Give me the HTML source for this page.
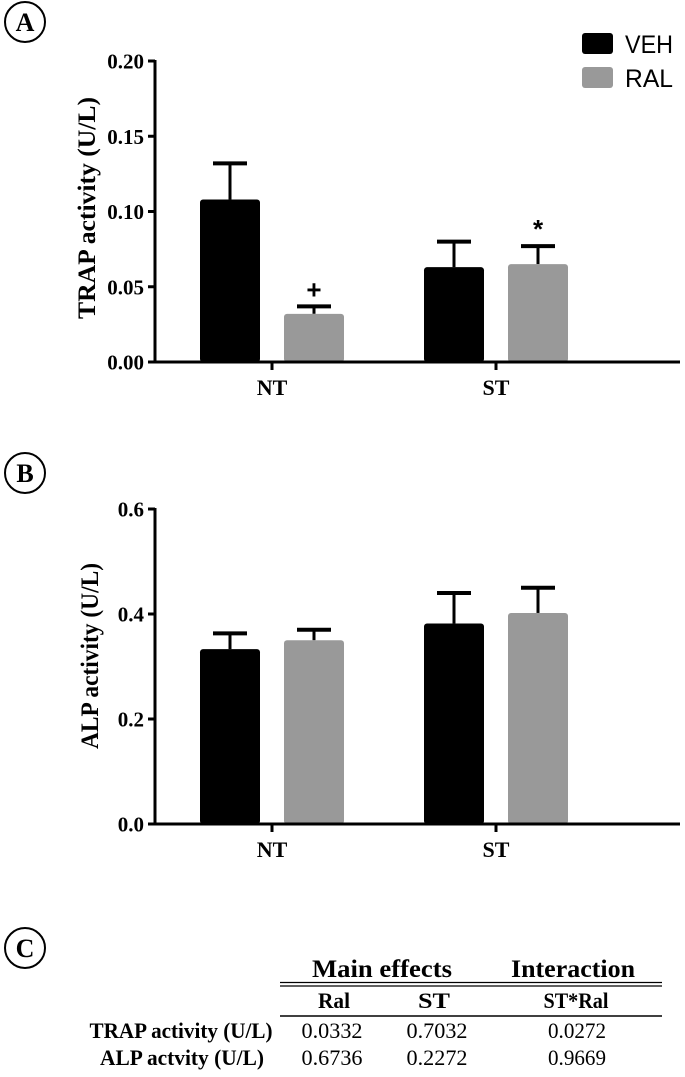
<!DOCTYPE html>
<html><head><meta charset="utf-8"><style>
body{margin:0;background:#fff;}
svg text{font-family:"Liberation Serif",serif;}
</style></head><body>
<svg width="685" height="1072" viewBox="0 0 685 1072" xmlns="http://www.w3.org/2000/svg">
<g id="labels"></g>
<g id="chartA"></g>
<g id="chartB"></g>
<g>
 <rect x="582" y="33" width="31" height="21" rx="3" fill="#000"/>
 <text x="625" y="53" font-size="25" textLength="48" lengthAdjust="spacingAndGlyphs" style="font-family:'Liberation Sans',sans-serif">VEH</text>
 <rect x="582" y="67" width="31" height="21" rx="3" fill="#999"/>
 <text x="625" y="87" font-size="25" textLength="48" lengthAdjust="spacingAndGlyphs" style="font-family:'Liberation Sans',sans-serif">RAL</text>
</g>
<g font-size="22" text-anchor="middle">
 <text x="382" y="977" font-weight="bold" font-size="25" textLength="140" lengthAdjust="spacingAndGlyphs">Main effects</text>
 <text x="573" y="977" font-weight="bold" font-size="25" textLength="124" lengthAdjust="spacingAndGlyphs">Interaction</text>
 <line x1="280" y1="982.5" x2="662" y2="982.5" stroke="#000" stroke-width="1.3"/>
 <line x1="280" y1="986" x2="662" y2="986" stroke="#000" stroke-width="1.3"/>
 <text x="334" y="1008" font-weight="bold" textLength="32" lengthAdjust="spacingAndGlyphs">Ral</text>
 <text x="434" y="1008" font-weight="bold" textLength="32" lengthAdjust="spacingAndGlyphs">ST</text>
 <text x="576" y="1008" font-weight="bold" textLength="65" lengthAdjust="spacingAndGlyphs">ST*Ral</text>
 <line x1="280" y1="1016" x2="662" y2="1016" stroke="#000" stroke-width="1.6"/>
 <text x="181" y="1038" font-weight="bold" textLength="183" lengthAdjust="spacingAndGlyphs">TRAP activity (U/L)</text>
 <text x="332" y="1038" textLength="61" lengthAdjust="spacingAndGlyphs">0.0332</text>
 <text x="437" y="1038" textLength="61" lengthAdjust="spacingAndGlyphs">0.7032</text>
 <text x="577" y="1038" textLength="58" lengthAdjust="spacingAndGlyphs">0.0272</text>
 <text x="182" y="1065" font-weight="bold" textLength="164" lengthAdjust="spacingAndGlyphs">ALP actvity (U/L)</text>
 <text x="332" y="1065" textLength="61" lengthAdjust="spacingAndGlyphs">0.6736</text>
 <text x="437" y="1065" textLength="61" lengthAdjust="spacingAndGlyphs">0.2272</text>
 <text x="577" y="1065" textLength="58" lengthAdjust="spacingAndGlyphs">0.9669</text>
</g>
</svg>
<script>
const categories = ["NT", "ST"];
const trapVeh = [0.108, 0.063];
const trapVehErr = [0.024, 0.017];
const trapRal = [0.032, 0.065];
const trapRalErr = [0.005, 0.012];
const trapTicks = ["0.00", "0.05", "0.10", "0.15", "0.20"];
const trapMarks = ["+", "*"];
const alpVeh = [0.333, 0.382];
const alpVehErr = [0.030, 0.058];
const alpRal = [0.350, 0.402];
const alpRalErr = [0.020, 0.048];
const alpTicks = ["0.0", "0.2", "0.4", "0.6"];

const NS = "http://www.w3.org/2000/svg";
function mk(parent, tag, attrs, text) {
  const e = document.createElementNS(NS, tag);
  for (const k in attrs) e.setAttribute(k, attrs[k]);
  if (text !== undefined) e.textContent = text;
  parent.appendChild(e);
  return e;
}
const labels = document.getElementById('labels');
[["A", 22], ["B", 473], ["C", 948]].forEach(([t, cy]) => {
  const c = mk(labels, 'circle', {cx: 25, cy: cy, r: 20, fill: 'none', stroke: '#000', 'stroke-width': 2});
  
  
  const tx = mk(labels, 'text', {x: 25, y: cy + 9, 'text-anchor': 'middle', 'font-size': 26, 'font-weight': 'bold'}, t);
  
  
});

function drawChart(g, opt) {
  const x0 = 155, x1 = 680;
  const y = v => opt.yBot - (v / opt.max) * (opt.yBot - opt.yTop);
  const ticks = opt.ticks;
  ticks.forEach((t, i) => {
    const v = opt.max * i / (ticks.length - 1);
    const tl = mk(g, 'line', {x1: x0 - 7, x2: x0, y1: y(v), y2: y(v), stroke: '#000', 'stroke-width': 3});
    
    
    const tt = mk(g, 'text', {x: x0 - 11, y: y(v) + 7.5, 'text-anchor': 'end', 'font-size': 21, 'font-weight': 'bold'}, t);
    
    
  });
  const centers = [272, 496];
  const bw = 60, off = 42;
  categories.forEach((c, i) => {
    const series = [[opt.veh, opt.vehErr, '#000', -off, 'veh'], [opt.ral, opt.ralErr, '#999', off, 'ral']];
    series.forEach(([vals, errs, col, dx, nm]) => {
      const cx = centers[i] + dx;
      const top = y(vals[i] + errs[i]);
      const el = mk(g, 'line', {x1: cx, x2: cx, y1: y(vals[i]), y2: top, stroke: '#000', 'stroke-width': 3});
      
      
      const cap = mk(g, 'line', {x1: cx - 17, x2: cx + 17, y1: top, y2: top, stroke: '#000', 'stroke-width': 4});
      
      
      const r = mk(g, 'rect', {x: cx - bw / 2, y: y(vals[i]), width: bw, height: opt.yBot - y(vals[i]), rx: 3, fill: col});
      
      
      if (opt.marks && nm === 'ral') {
        const m = mk(g, 'text', {x: cx, y: top - 8, 'text-anchor': 'middle', 'font-size': 26, 'font-weight': 'bold', style: "font-family:'Liberation Sans',sans-serif"}, opt.marks[i]);
        
        
      }
    });
    const xt = mk(g, 'line', {x1: centers[i], x2: centers[i], y1: opt.yBot, y2: opt.yBot + 8, stroke: '#000', 'stroke-width': 3});
    
    
    const xl = mk(g, 'text', {x: centers[i], y: opt.yBot + 33, 'text-anchor': 'middle', 'font-size': 22, 'font-weight': 'bold'}, c);
    
    
  });
  const ya = mk(g, 'line', {x1: x0, x2: x0, y1: opt.yTop - 1, y2: opt.yBot + 1.5, stroke: '#000', 'stroke-width': 3});
  
  
  const xa = mk(g, 'line', {x1: x0, x2: x1, y1: opt.yBot, y2: opt.yBot, stroke: '#000', 'stroke-width': 3});
  
  
  const ti = mk(g, 'text', {x: 0, y: 0, transform: 'translate(' + opt.titleX + ',' + opt.titleY + ') rotate(-90)', 'text-anchor': 'middle', 'font-size': 25, 'font-weight': 'bold', textLength: opt.titleLen, lengthAdjust: 'spacingAndGlyphs'}, opt.title);
  
  
}
drawChart(document.getElementById('chartA'), {yTop: 61, yBot: 362, max: 0.20, ticks: trapTicks, veh: trapVeh, vehErr: trapVehErr, ral: trapRal, ralErr: trapRalErr, marks: trapMarks, title: 'TRAP activity (U/L)', titleX: 95, titleY: 208, titleLen: 222});
drawChart(document.getElementById('chartB'), {yTop: 509, yBot: 824, max: 0.6, ticks: alpTicks, veh: alpVeh, vehErr: alpVehErr, ral: alpRal, ralErr: alpRalErr, title: 'ALP activity (U/L)', titleX: 98, titleY: 656, titleLen: 186});
</script>
</body></html>
